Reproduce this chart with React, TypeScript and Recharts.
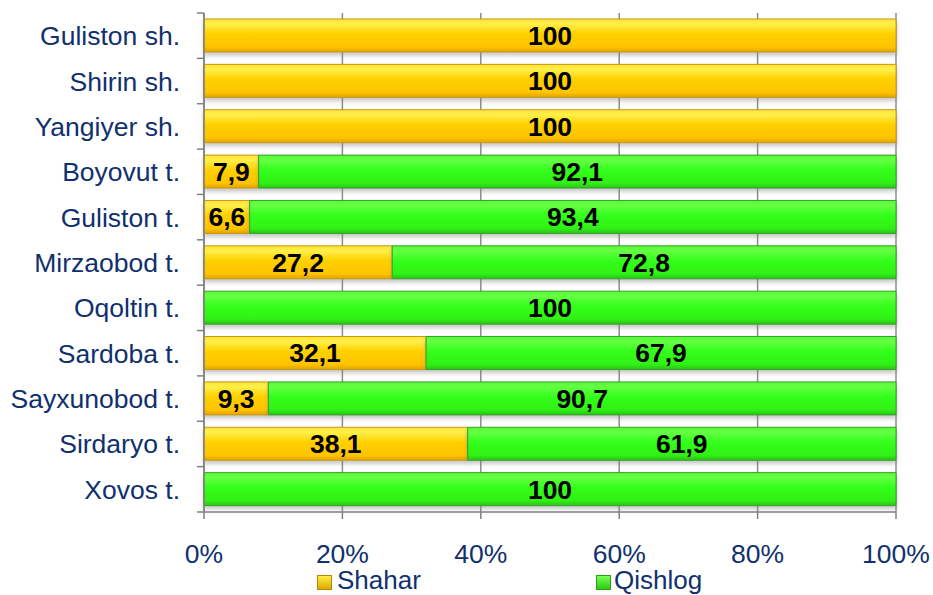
import React from 'react';
import { BarChart, Bar, XAxis, YAxis, CartesianGrid, LabelList, Legend } from 'recharts';

const categories = ['Guliston sh.', 'Shirin sh.', 'Yangiyer sh.', 'Boyovut t.', 'Guliston t.', 'Mirzaobod t.', 'Oqoltin t.', 'Sardoba t.', 'Sayxunobod t.', 'Sirdaryo t.', 'Xovos t.'];
const shahar = [100, 100, 100, 7.9, 6.6, 27.2, 0, 32.1, 9.3, 38.1, 0];
const qishlog = [0, 0, 0, 92.1, 93.4, 72.8, 100, 67.9, 90.7, 61.9, 100];
const xTicks = [0, 20, 40, 60, 80, 100];
const seriesNames = ['Shahar', 'Qishlog'];

const data = categories.map((name, i) => ({ name, shahar: shahar[i], qishlog: qishlog[i] }));

const W = 933;
const H = 595;
const TOP = 13;
const LEGEND_H = 28;
const XAXIS_H = 55;
const PLOT_H = H - TOP - LEGEND_H - XAXIS_H;
const BAND = PLOT_H / categories.length;
const NAVY = '#10306E';
const FONT = 'Liberation Sans, Arial, sans-serif';

const fmt = (v: any) => (v === 0 || v == null ? '' : String(v).replace('.', ','));

const YTick = (props: any) => {
  const { x, y, payload, index } = props;
  const ax = x + 24;
  const last = index === categories.length - 1;
  return (
    <g>
      <line x1={ax - 7} x2={ax} y1={y - BAND / 2} y2={y - BAND / 2} stroke="#808080" strokeWidth={1.5} />
      {last && <line x1={ax - 7} x2={ax} y1={y + BAND / 2} y2={y + BAND / 2} stroke="#808080" strokeWidth={1.5} />}
      <text x={x} y={y} dy="0.36em" textAnchor="end" fill={NAVY} fontSize={26.5} fontFamily={FONT}>
        {payload.value}
      </text>
    </g>
  );
};

const LegendContent = () => (
  <div style={{ position: 'relative', width: W, height: LEGEND_H, fontFamily: FONT, fontSize: 26, color: NAVY }}>
    <div style={{ position: 'absolute', left: 317, top: 8, width: 15, height: 15, background: 'linear-gradient(#FFEE44, #E0A800)', border: '1px solid #B8860B', boxSizing: 'border-box' }} />
    <div style={{ position: 'absolute', left: 337, top: 0, lineHeight: '27px', whiteSpace: 'nowrap' }}>{seriesNames[0]}</div>
    <div style={{ position: 'absolute', left: 596, top: 8, width: 15, height: 15, background: 'linear-gradient(#77FF55, #2CCB14)', border: '1px solid #2E9E1A', boxSizing: 'border-box' }} />
    <div style={{ position: 'absolute', left: 614, top: 0, lineHeight: '27px', whiteSpace: 'nowrap' }}>{seriesNames[1]}</div>
  </div>
);

export default function App() {
  return (
    <div style={{ position: 'absolute', left: 0, top: 0, width: W, height: H, background: '#fff', overflow: 'hidden' }}>
      <BarChart
        width={W}
        height={H}
        data={data}
        layout="vertical"
        barSize={33}
        margin={{ top: TOP, right: 37, bottom: 0, left: 0 }}
      >
        <defs>
          <linearGradient id="gY" x1="0" y1="0" x2="0" y2="1">
            <stop offset="0%" stopColor="#FFE23A" />
            <stop offset="15%" stopColor="#FFF04A" />
            <stop offset="45%" stopColor="#FFD000" />
            <stop offset="85%" stopColor="#FFC400" />
            <stop offset="100%" stopColor="#E0A200" />
          </linearGradient>
          <linearGradient id="gG" x1="0" y1="0" x2="0" y2="1">
            <stop offset="0%" stopColor="#55FF33" />
            <stop offset="15%" stopColor="#66FF44" />
            <stop offset="45%" stopColor="#33FF1A" />
            <stop offset="85%" stopColor="#30F018" />
            <stop offset="100%" stopColor="#28C412" />
          </linearGradient>
          <filter id="sh" x="-5%" y="-20%" width="110%" height="160%">
            <feDropShadow dx="0" dy="3" stdDeviation="2" floodColor="#808080" floodOpacity="0.45" />
          </filter>
        </defs>
        <CartesianGrid horizontal={false} stroke="#8C8C8C" strokeWidth={1.5} />
        <XAxis
          type="number"
          domain={[0, 100]}
          ticks={xTicks}
          tickFormatter={(v: number) => v + '%'}
          height={XAXIS_H}
          tickSize={7}
          tickMargin={25}
          stroke="#808080"
          axisLine={{ stroke: '#808080', strokeWidth: 1.5 }}
          tickLine={{ stroke: '#808080', strokeWidth: 1.5 }}
          tick={{ fill: NAVY, fontSize: 26.5, fontFamily: FONT }}
          interval={0}
        />
        <YAxis
          type="category"
          dataKey="name"
          width={204}
          tickSize={0}
          tickMargin={24}
          tickLine={false}
          axisLine={{ stroke: '#808080', strokeWidth: 1.5 }}
          tick={<YTick />}
          interval={0}
        />
        <Legend verticalAlign="bottom" height={LEGEND_H} content={<LegendContent />} />
        <Bar dataKey="shahar" name={seriesNames[0]} stackId="a" fill="url(#gY)" stroke="#C99A0A" strokeWidth={1} filter="url(#sh)" isAnimationActive={false}>
          <LabelList dataKey="shahar" position="center" formatter={fmt} fill="#000" fontSize={26.5} fontWeight="bold" fontFamily={FONT} />
        </Bar>
        <Bar dataKey="qishlog" name={seriesNames[1]} stackId="a" fill="url(#gG)" stroke="#3A9E2A" strokeWidth={1} filter="url(#sh)" isAnimationActive={false}>
          <LabelList dataKey="qishlog" position="center" formatter={fmt} fill="#000" fontSize={26.5} fontWeight="bold" fontFamily={FONT} />
        </Bar>
      </BarChart>
    </div>
  );
}
